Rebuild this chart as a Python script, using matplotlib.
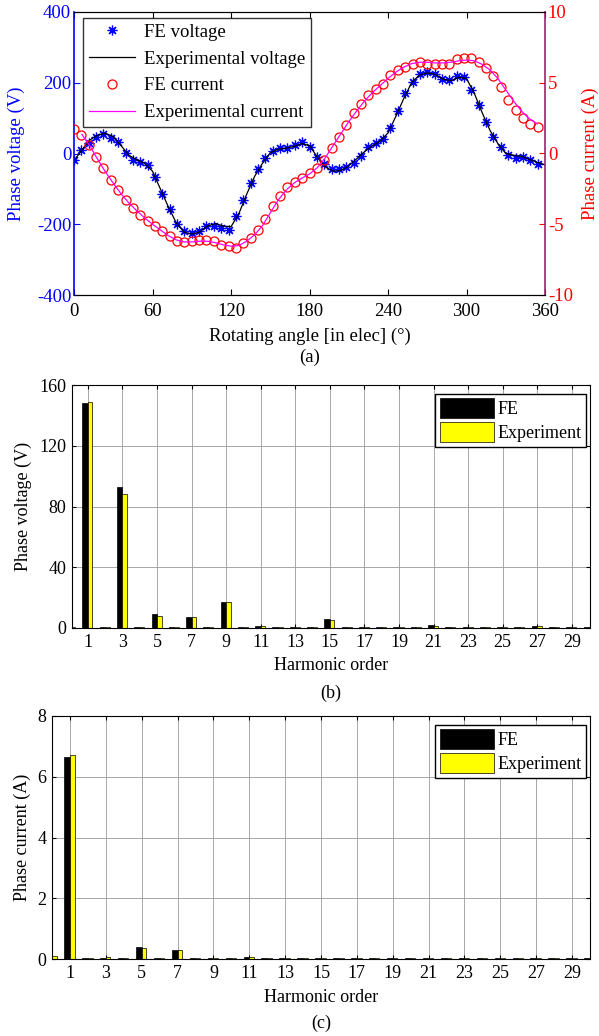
import numpy as np
import matplotlib
matplotlib.use("Agg")
import matplotlib.pyplot as plt

plt.rcParams['font.family'] = ['Liberation Serif', 'DejaVu Serif']
plt.rcParams['axes.unicode_minus'] = False

# ---------- (a) forma de onda ----------
fe_angle = np.arange(64) * 5.625  # 64 amostras por periodo eletrico
fe_voltage = [-18, 10, 30, 48, 55, 45, 33, 1, -18, -23, -33, -67, -115, -158, -200, -219,
              -224, -220, -206, -204, -212, -215, -178, -131, -84, -44, -13, 8, 15, 15, 24, 33,
              19, -9, -30, -44, -45, -37, -27, -6, 19, 30, 42, 72, 120, 170, 203, 226,
              230, 226, 210, 207, 218, 216, 180, 137, 90, 47, 19, -4, -13, -9, -18, -30]
fe_current = [1.70, 1.30, 0.60, -0.22, -1.04, -1.87, -2.57, -3.27, -3.86, -4.33, -4.80, -5.15,
              -5.50, -5.86, -6.20, -6.28, -6.20, -6.09, -6.09, -6.20, -6.44, -6.56, -6.68, -6.33,
              -5.97, -5.39, -4.64, -3.70, -2.98, -2.40, -1.98, -1.75, -1.39, -1.00, -0.46, 0.37,
              1.18, 2.00, 2.87, 3.53, 4.12, 4.59, 4.94, 5.53, 5.88, 6.11, 6.35, 6.46,
              6.35, 6.30, 6.30, 6.35, 6.65, 6.77, 6.77, 6.46, 6.04, 5.46, 4.70, 3.77,
              3.06, 2.48, 2.08, 1.84]

exp_v_angle = np.arange(0, 361, 6)
exp_voltage = [-20, 10, 38, 52, 57, 48, 22, -5, -18, -28, -50, -100, -150, -195, -222, -228,
               -222, -205, -198, -205, -207, -170, -115, -65, -28, 2, 12, 15, 20, 28, 22,
               -10, -38, -50, -48, -35, -15, 5, 22, 35, 58, 105, 155, 200, 222, 228,
               224, 210, 206, 215, 212, 170, 115, 65, 28, 0, -5, -8, -17, -25, -32]
exp_i_angle = np.arange(6, 355, 6)
exp_current = [1.35, 0.55, -0.40, -1.30, -2.10, -2.85, -3.50, -4.05, -4.55, -5.00,
               -5.40, -5.80, -6.10, -6.25, -6.25, -6.20, -6.20, -6.30, -6.45, -6.55,
               -6.50, -6.20, -5.75, -5.10, -4.20, -3.30, -2.60, -2.10, -1.75, -1.45,
               -1.00, -0.30, 0.55, 1.40, 2.25, 3.00, 3.70, 4.30, 4.80, 5.30,
               5.75, 6.10, 6.35, 6.45, 6.45, 6.40, 6.40, 6.45, 6.55, 6.60,
               6.55, 6.30, 5.90, 5.30, 4.50, 3.70, 3.00, 2.45, 2.10]

# ---------- (b), (c) harmonicos ----------
harm_order = np.arange(0, 31)
fe_v_harm = [0.5, 148, 0.6, 93, 0.6, 9.5, 0.6, 7, 0.6, 17, 0.6, 1.5, 0.5, 0.8, 0.4, 6,
             0.5, 0.5, 0.4, 0.5, 0.4, 2, 0.4, 0.4, 0.4, 0.4, 0.4, 1.5, 0.4, 0.5, 0.5]
exp_v_harm = [0.8, 149, 0.5, 88, 0.5, 8, 0.5, 7, 0.5, 17, 0.5, 1.5, 0.4, 0.5, 0.4, 5.5,
              0.4, 0.4, 0.4, 0.4, 0.4, 1.5, 0.4, 0.4, 0.4, 0.4, 0.4, 1.2, 0.4, 0.4, 0.4]
fe_i_harm = [0.02, 6.65, 0.02, 0.02, 0.02, 0.40, 0.02, 0.30, 0.02, 0.02, 0.02, 0.05, 0.02,
             0.02, 0.02, 0.02, 0.02, 0.02, 0.02, 0.02, 0.02, 0.02, 0.02, 0.02, 0.02, 0.02,
             0.02, 0.02, 0.02, 0.02, 0.02]
exp_i_harm = [0.10, 6.72, 0.02, 0.06, 0.02, 0.35, 0.02, 0.30, 0.02, 0.02, 0.02, 0.06, 0.02,
              0.02, 0.02, 0.02, 0.02, 0.02, 0.02, 0.02, 0.02, 0.02, 0.02, 0.02, 0.02, 0.02,
              0.02, 0.02, 0.02, 0.02, 0.02]

W, H = 599, 1036
fig = plt.figure(figsize=(W / 100, H / 100), dpi=100)

def box(l, t, r, b):
    return [l / W, 1 - b / H, (r - l) / W, (b - t) / H]

BLUE = '#0000ff'
RED = '#ff0000'
PURPLE = '#a0206a'
FS_A = 13.5
FS_B = 13

# ---------- (a) ----------
ax = fig.add_axes(box(74, 12, 545, 295))
ax2 = ax.twinx()
h1, = ax.plot(fe_angle, fe_voltage, ls='none', marker=(8, 2, 0), ms=7, mew=0.9,
              color=BLUE, label='FE voltage')
h2, = ax.plot(exp_v_angle, exp_voltage, color='black', lw=0.9, label='Experimental voltage')
h3, = ax2.plot(fe_angle, fe_current, ls='none', marker='o', ms=6.5, mfc='none', mew=0.9,
               color=RED, label='FE current')
h4, = ax2.plot(exp_i_angle, exp_current, color='#ff00ff', lw=0.9, label='Experimental current')

ax.set_xlim(0, 360)
ax.set_ylim(-400, 400)
ax2.set_ylim(-10, 10)
ax.set_xticks(np.arange(0, 361, 60))
ax.set_yticks(np.arange(-400, 401, 200))
ax2.set_yticks(np.arange(-10, 11, 5))
ax.tick_params(axis='x', direction='in', top=True, labelsize=FS_A, length=4, pad=6)
ax.tick_params(axis='y', direction='in', colors=BLUE, labelsize=FS_A, length=4, pad=2)
ax2.tick_params(axis='y', direction='in', colors=RED, labelsize=FS_A, length=4, pad=2)
ax.spines['left'].set_color(BLUE)
ax.spines['right'].set_visible(False)
ax2.spines['left'].set_visible(False)
ax2.spines['right'].set_color(PURPLE)
ax2.spines['right'].set_linewidth(1.2)
ax.spines['left'].set_linewidth(1.2)
ax.set_ylabel('Phase voltage (V)', color=BLUE, fontsize=FS_A)
ax.yaxis.set_label_coords(-0.104, 0.5)
ax2.set_ylabel('Phase current (A)', color=RED, fontsize=FS_A)
ax2.yaxis.set_label_coords(1.0786, 0.5)
ax.set_xlabel('Rotating angle [in elec] (°)', fontsize=FS_A, labelpad=5)

leg = ax2.legend(handles=[h1, h2, h3, h4], loc='upper left', bbox_to_anchor=(0.019, 0.979),
                 fontsize=FS_A, numpoints=1, handlelength=2.5, labelspacing=0.52,
                 borderaxespad=0, borderpad=0.3, handletextpad=0.45, fancybox=False)
leg.get_frame().set_edgecolor('black')
leg.get_frame().set_linewidth(1.0)
fig.text((74 + 545) / 2 / W, 1 - 357 / H, '(a)', ha='center', va='center', fontsize=FS_A)

# ---------- (b), (c) ----------
def harm_bars(rect, fe, exp, ymax, ystep, ylabel, ylab_x, xlim, tag, tag_y):
    axb = fig.add_axes(rect)
    axb.set_axisbelow(True)
    axb.grid(True, color='#999999', lw=0.6)
    axb.bar(harm_order - 0.16, fe, width=0.32, color='black', edgecolor='black', lw=0.5,
            label='FE')
    axb.bar(harm_order + 0.13, exp, width=0.26, color='#ffff00', edgecolor='black', lw=0.5,
            label='Experiment')
    axb.set_xlim(*xlim)
    axb.set_ylim(0, ymax)
    axb.set_xticks(np.arange(1, 30, 2))
    axb.set_yticks(np.arange(0, ymax + 0.1, ystep))
    axb.tick_params(direction='in', top=True, right=True, labelsize=FS_B, length=3, pad=4)
    axb.set_xlabel('Harmonic order', fontsize=FS_B, labelpad=5)
    axb.set_ylabel(ylabel, fontsize=FS_B)
    axb.yaxis.set_label_coords(ylab_x, 0.5)
    lg = axb.legend(loc='upper right', bbox_to_anchor=(0.993, 0.965), fontsize=FS_B,
                    handlelength=3.0, handleheight=1.3, borderaxespad=0, borderpad=0.25,
                    labelspacing=0.25, handletextpad=0.2, fancybox=False, framealpha=1)
    lg.get_frame().set_edgecolor('black')
    lg.get_frame().set_linewidth(1.0)
    fig.text((rect[0] + rect[2] / 2), 1 - tag_y / H, tag, ha='center', va='center',
             fontsize=FS_B)
    return axb

harm_bars(box(72, 385, 590, 628), fe_v_harm, exp_v_harm, 160, 40, 'Phase voltage (V)',
          -0.0772, (0.08, 30.05), '(b)', 693)
harm_bars(box(52, 716, 590, 959), fe_i_harm, exp_i_harm, 8, 2, 'Phase current (A)',
          -0.039, (0, 30), '(c)', 1023)

fig.savefig('out.png', dpi=100)
